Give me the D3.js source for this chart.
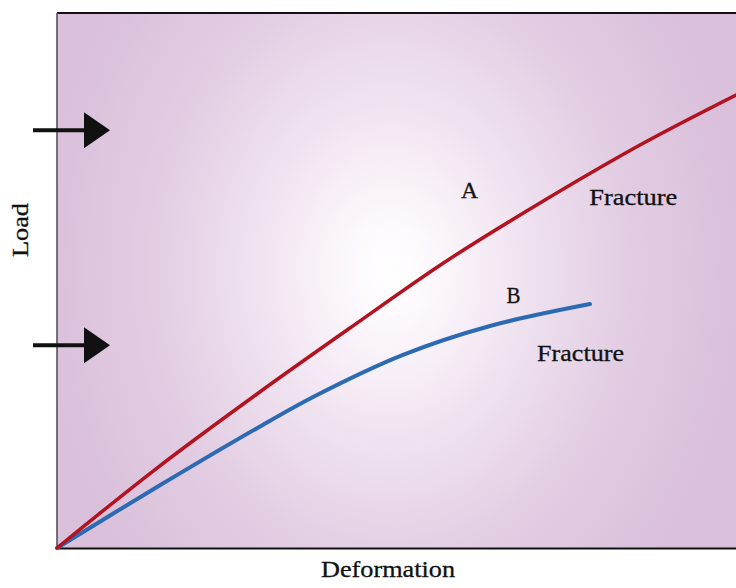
<!DOCTYPE html>
<html>
<head>
<meta charset="utf-8">
<script src="https://cdn.jsdelivr.net/npm/d3@7"></script>
<style>
  html, body { margin: 0; padding: 0; background: #ffffff; }
  svg { display: block; }
  text { font-family: "Liberation Serif", "Times New Roman", serif; }
</style>
</head>
<body>
<svg id="chart" width="736" height="588"></svg>
<script>
// ---- data (deformation 0..100, load 0..100, arbitrary units) ----
const deformationA = [0, 14.73, 29.46, 43.15, 57.14, 71.13, 85.86, 100];
const loadA        = [0, 14.95, 28.79, 41.12, 53.46, 64.49, 75.33, 84.67];
const deformationB = [0, 14.73, 29.46, 38.29, 50.96, 63.77, 78.5];
const loadB        = [0, 11.4, 22.4, 28.6, 36.1, 41.5, 45.6];
const arrowLoads   = [78.1, 37.9];
const curveLabels  = [
  { text: "A", x: 59.5, y: 65.4, len: 17 },
  { text: "Fracture", x: 78.4, y: 64.1, len: 88 },
  { text: "B", x: 66.2, y: 45.8, len: 14 },
  { text: "Fracture", x: 70.7, y: 35.0, len: 87 }
];
const xTitle = "Deformation";
const yTitle = "Load";

// ---- layout ----
const svg = d3.select("#chart");
const pL = 57, pR = 736, pT = 13, pB = 548;
const x = d3.scaleLinear().domain([0, 100]).range([pL, pR]);
const y = d3.scaleLinear().domain([0, 100]).range([pB, pT]);

// background radial gradient
const defs = svg.append("defs");
const grad = defs.append("radialGradient")
  .attr("id", "bg")
  .attr("gradientUnits", "userSpaceOnUse")
  .attr("cx", 0).attr("cy", 0).attr("r", 1)
  .attr("gradientTransform", "translate(390,270) scale(350,440)");
[[0, "#ffffff"], [0.12, "#fdf8fd"], [0.38, "#f0e3f0"], [0.68, "#e2cde3"], [1, "#dac0db"]]
  .forEach(([o, c]) => grad.append("stop").attr("offset", o).attr("stop-color", c));

svg.append("rect")
  .attr("x", pL).attr("y", pT)
  .attr("width", pR - pL).attr("height", pB - pT)
  .attr("fill", "url(#bg)");

// frame
svg.append("line").attr("x1", pL).attr("x2", pR).attr("y1", pT).attr("y2", pT)
  .attr("stroke", "#111").attr("stroke-width", 2.2);
svg.append("line").attr("x1", pL).attr("x2", pR).attr("y1", pB + 0.5).attr("y2", pB + 0.5)
  .attr("stroke", "#111").attr("stroke-width", 2.2);
svg.append("line").attr("x1", pL).attr("x2", pL).attr("y1", pT).attr("y2", pB + 1)
  .attr("stroke", "#555").attr("stroke-width", 1.6);

// curves
const line = d3.line().x(d => x(d[0])).y(d => y(d[1])).curve(d3.curveCatmullRom.alpha(0.5));
const dataA = deformationA.map((d, i) => [d, loadA[i]]);
const dataB = deformationB.map((d, i) => [d, loadB[i]]);

svg.append("path").datum(dataB)
  .attr("d", line).attr("fill", "none")
  .attr("stroke", "#2c6bb3").attr("stroke-width", 4).attr("stroke-linecap", "round");
svg.append("path").datum(dataA)
  .attr("d", line).attr("fill", "none")
  .attr("stroke", "#b3121f").attr("stroke-width", 3.5).attr("stroke-linecap", "round");

// arrows
arrowLoads.forEach(v => {
  const yy = y(v);
  svg.append("line").attr("x1", 33).attr("x2", 88).attr("y1", yy).attr("y2", yy)
    .attr("stroke", "#111").attr("stroke-width", 4);
  svg.append("path")
    .attr("d", `M84,${yy - 18} L110,${yy} L84,${yy + 18} Z`)
    .attr("fill", "#111");
});

// labels
function styleText(t) {
  return t.attr("font-size", 23).attr("fill", "#111")
    .attr("stroke", "#111").attr("stroke-width", 0.3);
}
curveLabels.forEach(l => {
  styleText(svg.append("text"))
    .attr("x", x(l.x)).attr("y", y(l.y))
    .attr("textLength", l.len).attr("lengthAdjust", "spacingAndGlyphs")
    .text(l.text);
});

styleText(svg.append("text"))
  .attr("x", 321).attr("y", 577)
  .attr("textLength", 134).attr("lengthAdjust", "spacingAndGlyphs")
  .text(xTitle);

styleText(svg.append("text"))
  .attr("transform", "translate(28,257) rotate(-90)")
  .attr("textLength", 54).attr("lengthAdjust", "spacingAndGlyphs")
  .text(yTitle);
</script>
</body>
</html>
